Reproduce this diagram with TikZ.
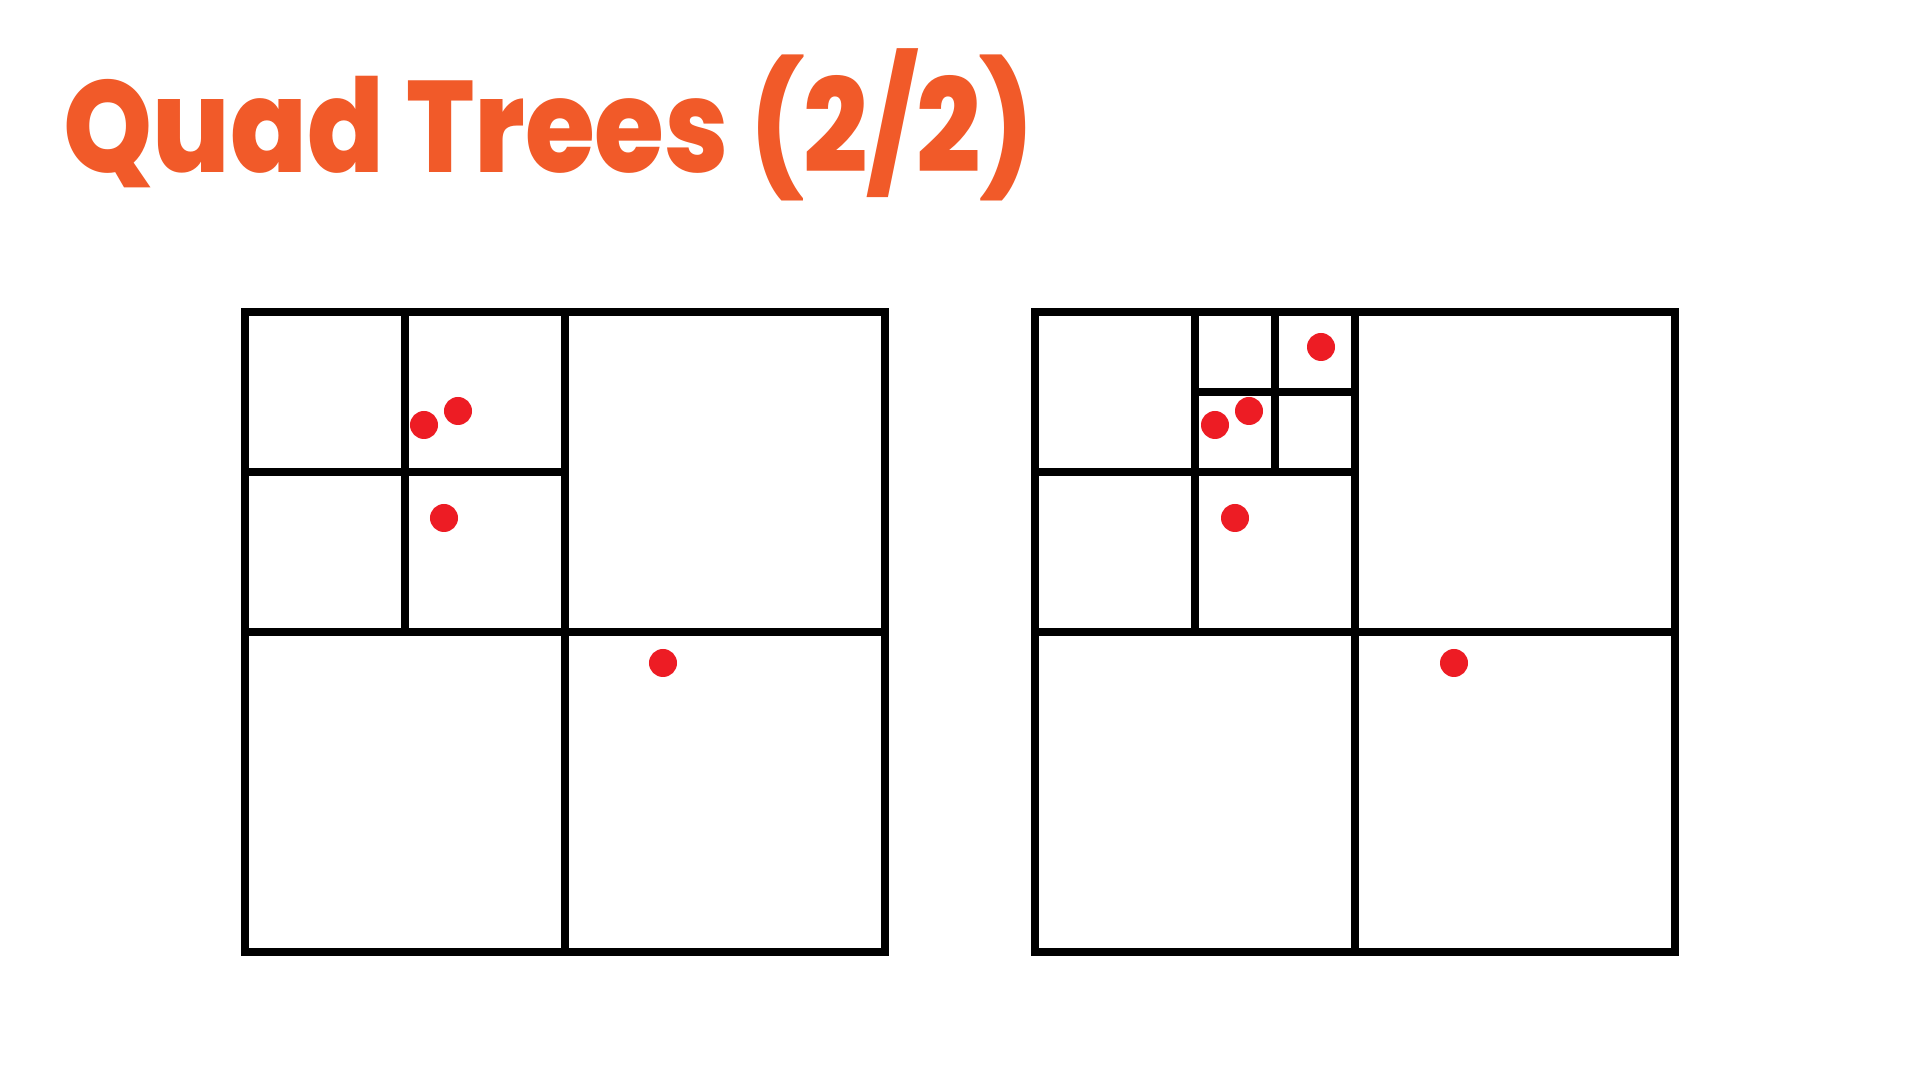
\documentclass[tikz,border=0pt]{standalone}
\usepackage{graphicx}
\usepackage{fontspec}
\newfontfamily\titlefont{Poppins ExtraBold}
\definecolor{titleorange}{HTML}{F15A29}
\definecolor{dotred}{HTML}{ED1C24}
\tikzset{
  gridline/.style={line width=0.075cm, draw=black, line cap=rect, line join=miter},
  pt/.style={circle, fill=dotred, inner sep=0pt, minimum size=0.28cm, draw=none},
  titletext/.style={text=titleorange, inner sep=0pt, anchor=base west, font=\titlefont\fontsize{37}{40}\selectfont}
}
\begin{document}
\begin{tikzpicture}[x=0.01cm, y=-0.01cm]
\useasboundingbox[fill=white] (0,0) rectangle (1920,1080);
\node[titletext] (title) at (63,173) {\scalebox{0.87}[1]{Quad Trees (2/2)}};
% left quadtree
\draw[gridline] (245,312) rectangle (885,952);
\draw[gridline] (565,312) -- (565,952);
\draw[gridline] (245,632) -- (885,632);
\draw[gridline] (405,312) -- (405,632);
\draw[gridline] (245,472) -- (565,472);
\node[pt] (l1) at (424,425) {};
\node[pt] (l2) at (458,411) {};
\node[pt] (l3) at (444,518) {};
\node[pt] (l4) at (663,663) {};
% right quadtree
\draw[gridline] (1035,312) rectangle (1675,952);
\draw[gridline] (1355,312) -- (1355,952);
\draw[gridline] (1035,632) -- (1675,632);
\draw[gridline] (1195,312) -- (1195,632);
\draw[gridline] (1035,472) -- (1355,472);
\draw[gridline] (1275,312) -- (1275,472);
\draw[gridline] (1195,392) -- (1355,392);
\node[pt] (r1) at (1215,425) {};
\node[pt] (r2) at (1249,411) {};
\node[pt] (r3) at (1321,347) {};
\node[pt] (r4) at (1235,518) {};
\node[pt] (r5) at (1454,663) {};
\end{tikzpicture}
\end{document}
